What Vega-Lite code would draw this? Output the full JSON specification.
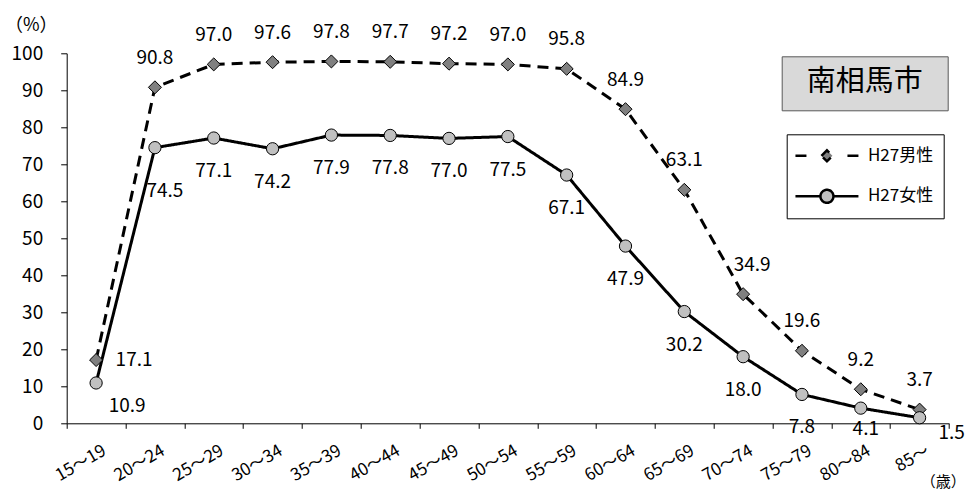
{
  "$schema": "https://vega.github.io/schema/vega-lite/v6.json",
  "width": 882.3,
  "height": 370,
  "autosize": {"type": "none"},
  "padding": {"left": 66.7, "top": 53.3, "right": 22, "bottom": 66.7},
  "background": "white",
  "config": {
    "view": {"stroke": null},
    "font": "Noto Sans CJK JP",
    "axis": {
      "domainColor": "black",
      "tickColor": "black",
      "labelColor": "black",
      "titleColor": "black",
      "grid": false,
      "titleFontWeight": "normal",
      "labelFont": "Noto Sans CJK JP",
      "titleFont": "Noto Sans CJK JP"
    },
    "text": {"font": "Noto Sans CJK JP", "fontSize": 19, "color": "black", "baseline": "middle", "align": "center"}
  },
  "data": {
    "values": [
      {"age": "15～19", "series": "H27男性", "value": 17.1},
      {"age": "20～24", "series": "H27男性", "value": 90.8},
      {"age": "25～29", "series": "H27男性", "value": 97.0},
      {"age": "30～34", "series": "H27男性", "value": 97.6},
      {"age": "35～39", "series": "H27男性", "value": 97.8},
      {"age": "40～44", "series": "H27男性", "value": 97.7},
      {"age": "45～49", "series": "H27男性", "value": 97.2},
      {"age": "50～54", "series": "H27男性", "value": 97.0},
      {"age": "55～59", "series": "H27男性", "value": 95.8},
      {"age": "60～64", "series": "H27男性", "value": 84.9},
      {"age": "65～69", "series": "H27男性", "value": 63.1},
      {"age": "70～74", "series": "H27男性", "value": 34.9},
      {"age": "75～79", "series": "H27男性", "value": 19.6},
      {"age": "80～84", "series": "H27男性", "value": 9.2},
      {"age": "85～", "series": "H27男性", "value": 3.7},
      {"age": "15～19", "series": "H27女性", "value": 10.9},
      {"age": "20～24", "series": "H27女性", "value": 74.5},
      {"age": "25～29", "series": "H27女性", "value": 77.1},
      {"age": "30～34", "series": "H27女性", "value": 74.2},
      {"age": "35～39", "series": "H27女性", "value": 77.9},
      {"age": "40～44", "series": "H27女性", "value": 77.8},
      {"age": "45～49", "series": "H27女性", "value": 77.0},
      {"age": "50～54", "series": "H27女性", "value": 77.5},
      {"age": "55～59", "series": "H27女性", "value": 67.1},
      {"age": "60～64", "series": "H27女性", "value": 47.9},
      {"age": "65～69", "series": "H27女性", "value": 30.2},
      {"age": "70～74", "series": "H27女性", "value": 18.0},
      {"age": "75～79", "series": "H27女性", "value": 7.8},
      {"age": "80～84", "series": "H27女性", "value": 4.1},
      {"age": "85～", "series": "H27女性", "value": 1.5}
    ]
  },
  "encoding": {
    "x": {
      "field": "age",
      "type": "ordinal",
      "sort": null,
      "scale": {"type": "band", "paddingInner": 0, "paddingOuter": 0},
      "axis": {
        "title": "（歳）",
        "titleX": 876,
        "titleY": 58,
        "titleAngle": 0,
        "titleAlign": "center",
        "titleBaseline": "middle",
        "titleFontSize": 15,
        "labelAngle": -30,
        "labelAlign": "right",
        "labelBaseline": "top",
        "labelPadding": 14,
        "labelOffset": 4,
        "labelFontSize": 17,
        "tickBand": "extent",
        "tickSize": 5
      }
    },
    "y": {
      "field": "value",
      "type": "quantitative",
      "scale": {"domain": [0, 100]},
      "axis": {
        "title": "（%）",
        "titleX": -36,
        "titleY": -28,
        "titleAngle": 0,
        "titleAlign": "center",
        "titleBaseline": "middle",
        "titleFontSize": 18,
        "values": [0, 10, 20, 30, 40, 50, 60, 70, 80, 90, 100],
        "tickSize": 6,
        "labelPadding": 18,
        "labelFontSize": 19
      }
    }
  },
  "layer": [
    {
      "mark": {"type": "line", "strokeWidth": 3},
      "encoding": {
        "strokeDash": {
          "field": "series",
          "type": "nominal",
          "scale": {"domain": ["H27男性", "H27女性"], "range": [[11, 7], [1, 0]]},
          "legend": null
        },
        "color": {
          "field": "series",
          "type": "nominal",
          "scale": {"domain": ["H27男性", "H27女性"], "range": ["black", "black"]},
          "legend": {
            "title": null,
            "orient": "none",
            "legendX": 720,
            "legendY": 81,
            "fillColor": "white",
            "strokeColor": "black",
            "padding": 10,
            "rowPadding": 18.5,
            "symbolSize": 400,
            "symbolStrokeWidth": 2.5,
            "symbolStrokeColor": "black",
            "symbolOffset": 18.75,
            "labelFont": "Noto Sans CJK JP",
            "labelFontSize": 17,
            "labelColor": "black",
            "labelOffset": 29.5,
            "encode": {
              "symbols": {
                "update": {
                  "shape": {"signal": "datum.value === 'H27男性' ? 'M-3.15,0H-1.85M-0.55,0L0,-0.55L0.55,0L0,0.55ZM2.05,0H3.15' : 'M-3.15,0H-0.65M0.65,0H3.15M-0.65,0A0.65,0.65,0,1,0,0.65,0A0.65,0.65,0,1,0,-0.65,0Z'"},
                  "fill": {"signal": "datum.value === 'H27男性' ? '#808080' : '#c0c0c0'"},
                  "stroke": {"value": "black"},
                  "strokeDash": {"value": [1, 0]}
                }
              }
            }
          }
        }
      }
    },
    {
      "mark": {"type": "point", "filled": true, "stroke": "black", "strokeWidth": 1, "opacity": 1},
      "encoding": {
        "shape": {"condition": {"test": "datum.series === 'H27男性'", "value": "diamond"}, "value": "circle"},
        "fill": {"condition": {"test": "datum.series === 'H27男性'", "value": "#808080"}, "value": "#c0c0c0"},
        "size": {"condition": {"test": "datum.series === 'H27男性'", "value": 170}, "value": 150},
        "opacity": {
          "datum": "南相馬市",
          "type": "nominal",
          "scale": {"range": [1, 1]},
          "legend": {
            "title": "南相馬市",
            "titleFont": "Noto Sans CJK JP",
            "titleFontSize": 29,
            "titleFontWeight": "normal",
            "titleColor": "black",
            "titleOrient": "top",
            "titleAnchor": "middle",
            "titleAlign": "center",
            "titlePadding": 0,
            "titleLimit": 300,
            "orient": "none",
            "legendX": 715,
            "legendY": 3,
            "fillColor": "#d9d9d9",
            "strokeColor": "#595959",
            "padding": 12,
            "symbolSize": 0,
            "symbolStrokeWidth": 0,
            "symbolStrokeColor": "transparent",
            "symbolFillColor": "transparent",
            "labelExpr": "''",
            "labelFontSize": 1,
            "labelOffset": 141
          }
        }
      }
    },
    {
      "transform": [{"filter": "datum.series === 'H27男性' && datum.age !== '15～19' && datum.age !== '70～74'"}],
      "mark": {"type": "text", "dy": -29.5},
      "encoding": {"text": {"field": "value", "type": "quantitative", "format": ".1f"}}
    },
    {
      "transform": [{"filter": "datum.series === 'H27男性' && datum.age === '70～74'"}],
      "mark": {"type": "text", "dy": -29.5, "dx": 9},
      "encoding": {"text": {"field": "value", "type": "quantitative", "format": ".1f"}}
    },
    {
      "transform": [{"filter": "datum.series === 'H27男性' && datum.age === '15～19'"}],
      "mark": {"type": "text", "align": "left", "dx": 19.5, "dy": 0},
      "encoding": {"text": {"field": "value", "type": "quantitative", "format": ".1f"}}
    },
    {
      "transform": [{"filter": "datum.series === 'H27女性' && indexof(['15～19', '20～24', '80～84', '85～'], datum.age) < 0"}],
      "mark": {"type": "text", "dy": 33},
      "encoding": {"text": {"field": "value", "type": "quantitative", "format": ".1f"}}
    },
    {
      "transform": [{"filter": "datum.series === 'H27女性' && datum.age === '15～19'"}],
      "mark": {"type": "text", "dx": 31, "dy": 23},
      "encoding": {"text": {"field": "value", "type": "quantitative", "format": ".1f"}}
    },
    {
      "transform": [{"filter": "datum.series === 'H27女性' && datum.age === '20～24'"}],
      "mark": {"type": "text", "dx": 10, "dy": 43},
      "encoding": {"text": {"field": "value", "type": "quantitative", "format": ".1f"}}
    },
    {
      "transform": [{"filter": "datum.series === 'H27女性' && datum.age === '80～84'"}],
      "mark": {"type": "text", "dx": 5, "dy": 21},
      "encoding": {"text": {"field": "value", "type": "quantitative", "format": ".1f"}}
    },
    {
      "transform": [{"filter": "datum.series === 'H27女性' && datum.age === '85～'"}],
      "mark": {"type": "text", "dx": 32, "dy": 15},
      "encoding": {"text": {"field": "value", "type": "quantitative", "format": ".1f"}}
    }
  ]
}
